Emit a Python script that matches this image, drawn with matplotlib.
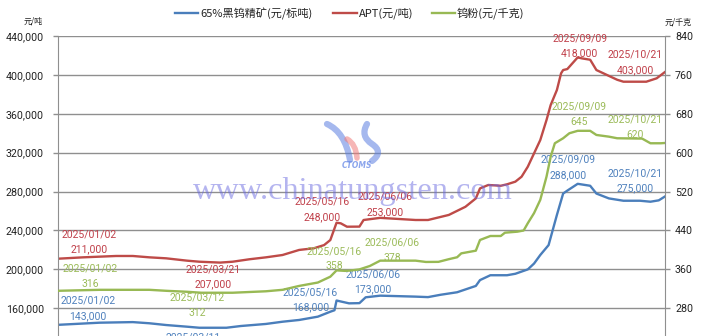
import matplotlib
matplotlib.use("Agg")
import matplotlib.pyplot as plt
import pandas as pd
from matplotlib.lines import Line2D
from matplotlib.path import Path
from matplotlib.patches import PathPatch

# ---------------- data ----------------
ore_dates = ["2025-01-02", "2025-01-22", "2025-02-07", "2025-02-15", "2025-02-23", "2025-03-05",
             "2025-03-11", "2025-03-24", "2025-03-31", "2025-04-12", "2025-04-20", "2025-04-28",
             "2025-05-07", "2025-05-13", "2025-05-15", "2025-05-16", "2025-05-22", "2025-05-27",
             "2025-05-30", "2025-06-06", "2025-06-23", "2025-06-29", "2025-07-05", "2025-07-13",
             "2025-07-22", "2025-07-24", "2025-07-29", "2025-08-06", "2025-08-10", "2025-08-16",
             "2025-08-19", "2025-08-22", "2025-08-26", "2025-08-28", "2025-08-30", "2025-09-02",
             "2025-09-04", "2025-09-09", "2025-09-15", "2025-09-18", "2025-09-24", "2025-10-01",
             "2025-10-09", "2025-10-14", "2025-10-18", "2025-10-21"]
ore_values = [143000, 145200, 145800, 144600, 142800, 141100,
              140000, 140000, 141800, 143900, 146200, 148000,
              151400, 156500, 158000, 168000, 165100, 165300,
              171300, 173000, 172000, 171500, 173900, 176500,
              183000, 189000, 194000, 194000, 195500, 200000,
              206000, 214800, 225000, 240500, 256000, 278000,
              281000, 288000, 286000, 278000, 273000, 270600,
              270600, 269600, 271000, 275000]

apt_dates = ["2025-01-02", "2025-01-14", "2025-01-30", "2025-02-07", "2025-02-15", "2025-02-23",
             "2025-03-05", "2025-03-11", "2025-03-21", "2025-03-27", "2025-04-04", "2025-04-12",
             "2025-04-20", "2025-04-28", "2025-05-05", "2025-05-10", "2025-05-13", "2025-05-16",
             "2025-05-18", "2025-05-21", "2025-05-27", "2025-05-29", "2025-06-06", "2025-06-23",
             "2025-06-29", "2025-07-09", "2025-07-17", "2025-07-22", "2025-07-24", "2025-07-28",
             "2025-08-03", "2025-08-06", "2025-08-10", "2025-08-13", "2025-08-16", "2025-08-19",
             "2025-08-22", "2025-08-25", "2025-08-27", "2025-08-30", "2025-09-01", "2025-09-02",
             "2025-09-04", "2025-09-09", "2025-09-11", "2025-09-15", "2025-09-18", "2025-09-23",
             "2025-09-28", "2025-10-01", "2025-10-12", "2025-10-17", "2025-10-21"]
apt_values = [211000, 212400, 213800, 213800, 212400, 211400,
              209000, 207900, 207000, 207900, 210400, 212400,
              214800, 220000, 221700, 225000, 230200, 248000,
              247400, 243900, 244000, 250800, 253000, 250800,
              250800, 256000, 264400, 273000, 283300, 286800,
              286000, 287500, 290200, 295300, 305600, 319300,
              333000, 353600, 369000, 384500, 401600, 405000,
              406000, 418000, 417000, 415600, 405000, 400000,
              395000, 393000, 393000, 396500, 403000]

powder_dates = ["2025-01-02", "2025-01-22", "2025-02-15", "2025-02-23", "2025-03-05", "2025-03-12",
                "2025-03-27", "2025-04-12", "2025-04-20", "2025-04-28", "2025-05-07", "2025-05-13",
                "2025-05-16", "2025-05-20", "2025-05-22", "2025-05-27", "2025-06-01", "2025-06-06",
                "2025-06-23", "2025-06-28", "2025-07-04", "2025-07-09", "2025-07-13", "2025-07-15",
                "2025-07-22", "2025-07-24", "2025-07-29", "2025-08-03", "2025-08-05", "2025-08-11",
                "2025-08-14", "2025-08-16", "2025-08-19", "2025-08-22", "2025-08-25", "2025-08-27",
                "2025-08-29", "2025-09-02", "2025-09-05", "2025-09-09", "2025-09-15", "2025-09-18",
                "2025-09-24", "2025-09-28", "2025-10-10", "2025-10-14", "2025-10-19", "2025-10-21"]
powder_values = [316, 318, 318, 316, 314, 312,
                 312, 315, 318, 326, 333, 345,
                 358, 357, 357.4, 360, 367, 378,
                 378, 375.3, 375.5, 381, 385, 393,
                 398.5, 420.5, 428.7, 428.7, 435.5, 437.6,
                 440, 455, 475.7, 503, 550.7, 591.8,
                 619.4, 629.7, 640, 645, 645, 636.5,
                 633, 629.7, 629, 619.4, 619.4, 620]

series_names = ["65%黑钨精矿(元/标吨)", "APT(元/吨)", "钨粉(元/千克)"]
left_ticks = [120000, 160000, 200000, 240000, 280000, 320000, 360000, 400000, 440000]
right_ticks = [200, 280, 360, 440, 520, 600, 680, 760, 840]

# annotated points: (date, dx, dy) offsets in pixels for the date line; value line sits 15 px lower
ore_notes = [("2025-01-02", 30, 24), ("2025-03-11", -6, -10), ("2025-05-16", -26, 8),
             ("2025-06-06", -7, 21), ("2025-09-09", -10, 24), ("2025-10-21", -30, 23)]
apt_notes = [("2025-01-02", 31, 24), ("2025-03-21", -7, -7), ("2025-05-16", -14, 21),
             ("2025-06-06", 5, 21), ("2025-09-09", 2, 19), ("2025-10-21", -30, 17)]
powder_notes = [("2025-01-02", 32, 22), ("2025-03-12", -4, -5), ("2025-05-16", -2, 19),
                ("2025-06-06", 12, 18), ("2025-09-09", 1, 24), ("2025-10-21", -30, 23)]

# ---------------- style ----------------
C_ORE, C_APT, C_POW = "#4A7EBB", "#BE4B48", "#98B954"
T_ORE, T_APT, T_POW = "#4F81BD", "#C0404A", "#9BBB59"
GRID = "#8f8f8f"
NUM_FONT = ["Roboto", "DejaVu Sans"]
CJK_FONT = ["Noto Sans CJK SC", "DejaVu Sans"]

W, H = 702, 336
fig = plt.figure(figsize=(W / 100, H / 100), dpi=100)
ax = fig.add_axes([58 / W, 1 - 347.2 / H, 607 / W, (347.2 - 36) / H])
ax2 = ax.twinx()

x0, x1 = pd.Timestamp("2025-01-02"), pd.Timestamp("2025-10-21")
ax.set_xlim(x0, x1)
ax.set_ylim(left_ticks[0], left_ticks[-1])
ax2.set_ylim(right_ticks[0], right_ticks[-1])
ax.set_yticks(left_ticks)
ax2.set_yticks(right_ticks)
ax.set_yticklabels([f"{v:,}" for v in left_ticks])
ax2.set_yticklabels([str(v) for v in right_ticks])
ax.set_xticks([])
ax2.set_xticks([])

ax.yaxis.grid(True, color=GRID, lw=1.0)
ax.set_axisbelow(True)
for a in (ax, ax2):
    for s in ("top", "bottom"):
        a.spines[s].set_visible(False)
ax.spines["right"].set_visible(False)
ax2.spines["left"].set_visible(False)
ax.spines["left"].set_color(GRID)
ax2.spines["right"].set_color(GRID)
ax.tick_params(axis="y", length=3.6, width=1.0, color=GRID, pad=6.5,
               labelsize=7.7, labelcolor="#222222")
ax2.tick_params(axis="y", length=3.6, width=1.0, color=GRID, pad=3.6,
                labelsize=7.7, labelcolor="#222222")
for lab in ax.get_yticklabels() + ax2.get_yticklabels():
    lab.set_fontfamily(NUM_FONT)

ore_x = pd.to_datetime(ore_dates)
apt_x = pd.to_datetime(apt_dates)
pow_x = pd.to_datetime(powder_dates)
ax.plot(ore_x, ore_values, color=C_ORE, lw=1.7, solid_joinstyle="round")
ax.plot(apt_x, apt_values, color=C_APT, lw=1.7, solid_joinstyle="round")
ax2.plot(pow_x, powder_values, color=C_POW, lw=1.7, solid_joinstyle="round")


def annotate(a, dates, values, notes, color, fmt):
    lookup = dict(zip(dates, values))
    for d, dx, dy in notes:
        v = lookup[d]
        xy = (pd.Timestamp(d), v)
        for text, oy in ((d.replace("-", "/"), dy), (fmt(v), dy - 15)):
            a.annotate(text, xy=xy, xytext=(dx, oy), textcoords="offset pixels",
                       ha="center", va="center", color=color, fontsize=7.5,
                       family=NUM_FONT, annotation_clip=False)


annotate(ax, ore_dates, ore_values, ore_notes, T_ORE, lambda v: f"{v:,}")
annotate(ax, apt_dates, apt_values, apt_notes, T_APT, lambda v: f"{v:,}")
annotate(ax2, powder_dates, powder_values, powder_notes, T_POW, lambda v: f"{v:g}")

# overlay in pixel coordinates for legend, units and site mark
ov = fig.add_axes([0, 0, 1, 1], facecolor="none")
ov.set_xlim(0, W)
ov.set_ylim(H, 0)
ov.axis("off")

legend_items = [(175, 198, 200, C_ORE), (333, 357, 359, C_APT), (432, 455, 457, C_POW)]
for (xa, xb, xt, c), name in zip(legend_items, series_names):
    ov.add_line(Line2D([xa, xb], [13, 13], color=c, lw=1.7))
    ov.text(xt, 13.5, name, ha="left", va="center", fontsize=8, color="#222222", family=CJK_FONT)

ov.text(43, 21, "元/吨", ha="right", va="center", fontsize=5.8, color="#222222", family=CJK_FONT)
ov.text(692, 21.5, "元/千克", ha="right", va="center", fontsize=5.8, color="#222222", family=CJK_FONT)

# CTOMS mark
def stroke(pts, color, lw):
    codes = [Path.MOVETO] + [Path.CURVE3] * (len(pts) - 1)
    ov.add_patch(PathPatch(Path(pts, codes), fc="none", ec=color, lw=lw, alpha=0.55,
                           capstyle="round"))

stroke([(327, 124), (345, 132), (350, 160)], "#5b7fe0", 4.5)
stroke([(347, 139), (356, 144), (357, 158)], "#f07a7a", 4.0)
stroke([(367, 124), (360, 136), (372, 144), (384, 152), (372, 161)], "#5b7fe0", 4.5)
ov.text(357, 166, "CTOMS", ha="center", va="center", fontsize=5.5, style="italic",
        weight="bold", color="#6f8fe8", alpha=0.8, family=["DejaVu Sans"])

ov.text(193, 199, "www.chinatungsten.com", ha="left", va="baseline", fontsize=23.3,
        family=["Liberation Serif", "DejaVu Serif"], color="#6a6ae0", alpha=0.5)

fig.savefig("out.png", dpi=100)
